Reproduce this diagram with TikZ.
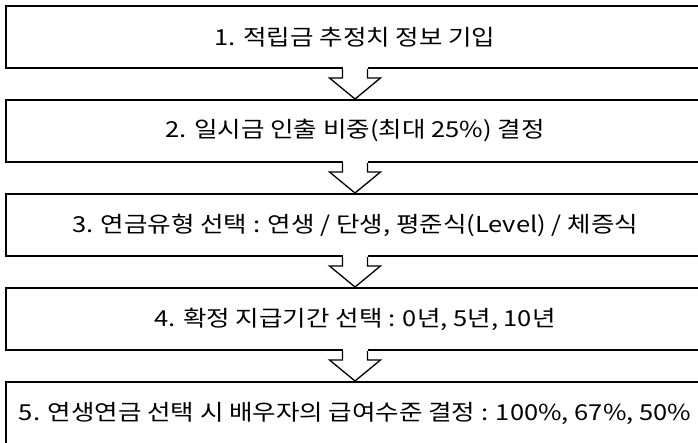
\documentclass[tikz,border=0pt]{standalone}
\usepackage{fontspec}
\setmainfont{Noto Sans CJK KR}
\newfontfamily\krfont[FakeStretch=1.16]{Noto Sans CJK KR}
\usetikzlibrary{calc}
\tikzset{
  stepbox/.style={draw=black, line width=2pt, fill=white, minimum width=698pt, minimum height=62pt, inner sep=0pt, font=\krfont\fontsize{22}{26}\selectfont},
  hollowarrow/.style={draw=black, line width=1.3pt, fill=white, line join=miter}
}
\newcommand{\hollowarr}[2]{%
  \fill[white] ([xshift=-12.5pt,yshift=2pt]#1.south) rectangle ([xshift=12.5pt,yshift=-9pt]#1.south);
  \filldraw[hollowarrow] ([xshift=-12.5pt]#1.south) -- ++(0,-9pt) -- ++(-13pt,0) -- (#2.north) -- ([xshift=25.5pt,yshift=-9pt]#1.south) -- ([xshift=12.5pt,yshift=-9pt]#1.south) -- ([xshift=12.5pt]#1.south);
}
\begin{document}
\begin{tikzpicture}[x=1pt,y=1pt]
\useasboundingbox[fill=white] (0,0) rectangle (698,-443);
\clip (0,0) rectangle (698,-443);
\node[stepbox] (b1) at (355,-37) {1. 적립금 추정치 정보 기입};
\node[stepbox] (b2) at (355,-131) {2. 일시금 인출 비중(최대 25\%) 결정};
\node[stepbox] (b3) at (355,-225) {3. 연금유형 선택 : 연생 / 단생, 평준식(Level) / 체증식};
\node[stepbox] (b4) at (355,-319) {4. 확정 지급기간 선택 : 0년, 5년, 10년};
\node[stepbox] (b5) at (355,-413) {5. 연생연금 선택 시 배우자의 급여수준 결정 : 100\%, 67\%, 50\%};
\hollowarr{b1}{b2}
\hollowarr{b2}{b3}
\hollowarr{b3}{b4}
\hollowarr{b4}{b5}
\end{tikzpicture}
\end{document}
